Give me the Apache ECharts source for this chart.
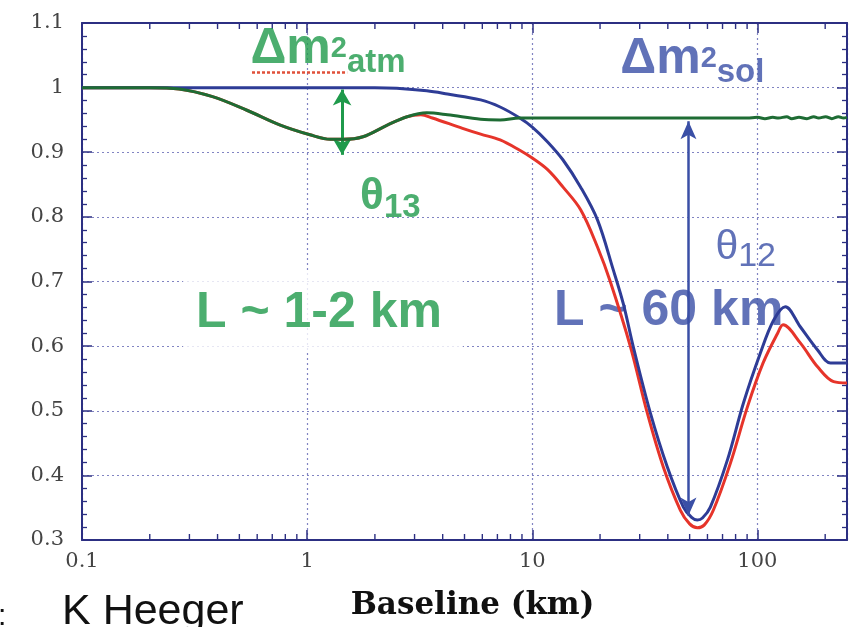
<!DOCTYPE html>
<html>
<head>
<meta charset="utf-8">
<script src="https://cdn.jsdelivr.net/npm/echarts@6/dist/echarts.min.js"></script>
<style>
  html, body { margin: 0; padding: 0; background: #fff; }
  #chart { width: 853px; height: 627px; }
</style>
</head>
<body>
<div id="chart"></div>
<script>
// Reactor antineutrino survival probability vs baseline (log scale)

// Δm²atm / θ13 driven curve
const baselineAtm = [0.1, 0.2, 0.27, 0.38, 0.54, 0.76, 1.03, 1.27, 1.45, 1.77, 2.27, 2.78, 3.4, 4.2, 5.9, 7.2, 8.8, 10, 20, 50, 90,
  100, 108, 117, 124, 135, 142, 153, 166, 178, 187, 201, 214, 229, 241, 250];
const probAtm = [1.0, 1.0, 0.998, 0.986, 0.965, 0.942, 0.927, 0.920, 0.920, 0.924, 0.942, 0.955, 0.961, 0.958, 0.951, 0.950, 0.953, 0.953, 0.953, 0.953, 0.953,
  0.954, 0.952, 0.954, 0.953, 0.955, 0.952, 0.954, 0.952, 0.955, 0.953, 0.955, 0.952, 0.955, 0.953, 0.954];

// Δm²sol / θ12 driven curve
const baselineSol = [0.1, 1, 2, 2.5, 3.4, 4.2, 5.9, 7.2, 8.8, 10, 11.7, 13.7, 16.4, 19.5, 22.9, 25.4, 28.1, 33.5, 39.8, 46.9, 51, 54.1, 57, 61.8,
  73.6, 86.7, 103, 118, 133, 155, 185, 211, 250];
const probSol = [1.0, 1.0, 1.0, 0.999, 0.995, 0.99, 0.981, 0.970, 0.953, 0.939, 0.916, 0.888, 0.846, 0.795, 0.718, 0.665, 0.599, 0.496, 0.413, 0.351, 0.335, 0.331, 0.334, 0.351,
  0.424, 0.512, 0.589, 0.640, 0.661, 0.630, 0.594, 0.574, 0.574];

// Both oscillations together
const baselineFull = [0.1, 0.2, 0.27, 0.38, 0.54, 0.76, 1.03, 1.27, 1.45, 1.77, 2.27, 2.78, 3.2, 3.6, 4.9, 5.9, 7.2, 8.8, 10, 11.7, 13.7, 16.4, 19.5, 22.2,
  27.3, 32.4, 38.2, 45.5, 50, 54.1, 58, 63.7, 75.9, 90.3, 106, 123, 130, 155, 185, 218, 250];
const probFull = [1.0, 1.0, 0.998, 0.986, 0.965, 0.942, 0.927, 0.920, 0.920, 0.924, 0.942, 0.955, 0.958, 0.953, 0.937, 0.928, 0.919, 0.903, 0.891, 0.873, 0.846, 0.811, 0.753, 0.700,
  0.599, 0.497, 0.413, 0.346, 0.325, 0.319, 0.323, 0.346, 0.419, 0.506, 0.574, 0.620, 0.633, 0.605, 0.568, 0.545, 0.543];

// Axis ticks
const yTicks = [0.3, 0.4, 0.5, 0.6, 0.7, 0.8, 0.9, 1, 1.1];
const xDecadeLabels = ['0.1', '1', '10', '100'];
const xMinorTicks = [0.2, 0.3, 0.4, 0.5, 0.6, 0.7, 0.8, 0.9, 2, 3, 4, 5, 6, 7, 8, 9, 20, 30, 40, 50, 60, 70, 80, 90, 200];

// Annotation anchors (baseline km, probability) and texts
const noteAnchors = [[0.56, 1.0132], [24.6, 0.9977], [1.72, 0.8749], [65.1, 0.7921], [0.281, 0.7178], [12.5, 0.6923]];
const noteTexts = ['{a|Δm}{p|2}{b|atm}', '{a|Δm}{p|2}{b|sol}', '{a|θ}{b|13}', '{a|θ}{b|12}', 'L ~ 1-2 km', 'L ~ 60 km'];
const noteVAlign = ['bottom', 'bottom', 'top', 'top', 'top', 'top'];

// Arrows and underline (baseline km, probability)
const arrowAtm = [[1.43, 0.997], [1.43, 0.896]];
const arrowSol = [[49.4, 0.948], [49.4, 0.338]];
const underlineAtm = [[0.569, 1.0242], [1.506, 1.0242]];

const NAVY = '#2c2f82';
const GRIDC = '#8184c2';
const GREEN_TXT = '#1f9a4b';
const GREEN_LINE = '#1e6c34';
const BLUE_TXT = '#3a4fa6';
const BLUE_LINE = '#2e3c96';
const RED_LINE = '#e6342a';
const SANS = 'Liberation Sans';
const SERIF = 'DejaVu Serif';

const zip = (xs, ys) => xs.map((x, i) => [x, ys[i]]);

const chart = echarts.init(document.getElementById('chart'), null, { renderer: 'canvas' });

function xLabel(v) {
  const e = Math.log10(v);
  if (Math.abs(e - Math.round(e)) > 1e-6) return '';
  const idx = Math.round(e) + 1;
  return xDecadeLabels[idx] !== undefined ? xDecadeLabels[idx] : '';
}
function yLabel(v) {
  const r = Math.round(v * 10) / 10;
  const hit = yTicks.find(t => Math.abs(t - r) < 1e-9);
  return hit === undefined ? '' : String(hit);
}

const dotted = { color: GRIDC, type: [2, 3], width: 1.2 };
const tok = (color, weight, size, lh, va) => ({ fontFamily: SANS, fontWeight: weight, fontSize: size, lineHeight: lh, color: color, verticalAlign: va || 'middle' });

const noteStyles = [
  { rich: { a: tok(GREEN_TXT, 'bold', 50, 60), p: tok(GREEN_TXT, 'bold', 29, 60), b: tok(GREEN_TXT, 'bold', 33, 38, 'bottom') } },
  { rich: { a: tok(BLUE_TXT, 'bold', 50, 60), p: tok(BLUE_TXT, 'bold', 29, 60), b: tok(BLUE_TXT, 'bold', 33, 38, 'bottom') } },
  { rich: { a: tok(GREEN_TXT, 'bold', 44, 56), b: tok(GREEN_TXT, 'bold', 33, 36, 'bottom') } },
  { rich: { a: tok(BLUE_TXT, 'normal', 41, 52), b: tok(BLUE_TXT, 'normal', 34, 37, 'bottom') } },
  { fontFamily: SANS, fontWeight: 'bold', fontSize: 50, lineHeight: 50, color: GREEN_TXT, backgroundColor: '#ffffff', padding: [18, 21, 14, 13] },
  { fontFamily: SANS, fontWeight: 'bold', fontSize: 50, lineHeight: 50, color: BLUE_TXT }
];

const noteData = noteAnchors.map((c, i) => ({
  value: c,
  label: Object.assign({
    show: true,
    position: [0, 0],
    align: 'left',
    verticalAlign: noteVAlign[i],
    formatter: noteTexts[i]
  }, noteStyles[i])
}));

const option = {
  animation: false,
  backgroundColor: '#fff',
  grid: { left: 82, right: 6, top: 23, bottom: 87, containLabel: false, outerBoundsMode: 'none' },
  xAxis: [
    {
      type: 'log', logBase: 10, min: 0.1, max: 250, position: 'bottom',
      axisLine: { show: true, lineStyle: { color: NAVY, width: 2 } },
      axisTick: { show: true, inside: true, length: 10, lineStyle: { color: NAVY, width: 1.5 } },
      axisLabel: { formatter: xLabel, fontFamily: SERIF, fontSize: 21, color: '#444', margin: 11, showMaxLabel: false },
      splitLine: { show: true, lineStyle: dotted },
      name: 'Baseline (km)', nameLocation: 'middle', nameGap: 50,
      nameTextStyle: { fontFamily: SERIF, fontWeight: 'bold', fontSize: 31, color: '#111', padding: [0, 0, 0, 16] }
    },
    {
      type: 'log', logBase: 10, min: 0.1, max: 250, position: 'top',
      axisLine: { show: true, lineStyle: { color: NAVY, width: 2 } },
      axisTick: { show: true, inside: true, length: 10, lineStyle: { color: NAVY, width: 1.5 } },
      axisLabel: { show: false },
      splitLine: { show: false }
    }
  ],
  yAxis: [
    {
      type: 'value', min: 0.3, max: 1.1, interval: 0.1, position: 'left',
      axisLine: { show: true, lineStyle: { color: NAVY, width: 2 } },
      axisTick: { show: true, inside: true, length: 10, lineStyle: { color: NAVY, width: 1.5 } },
      minorTick: { show: true, splitNumber: 5, length: 5, lineStyle: { color: NAVY, width: 1.3 } },
      axisLabel: { formatter: yLabel, fontFamily: SERIF, fontSize: 21, color: '#444', margin: 18 },
      splitLine: { show: true, lineStyle: dotted }
    },
    {
      type: 'value', min: 0.3, max: 1.1, interval: 0.1, position: 'right',
      axisLine: { show: true, lineStyle: { color: NAVY, width: 2 } },
      axisTick: { show: true, inside: true, length: 10, lineStyle: { color: NAVY, width: 1.5 } },
      minorTick: { show: true, splitNumber: 5, length: 5, lineStyle: { color: NAVY, width: 1.3 } },
      axisLabel: { show: false },
      splitLine: { show: false }
    }
  ],
  graphic: [
    { type: 'text', left: -2, top: 602, z: 10, style: { text: ':', fontFamily: SANS, fontSize: 30, fill: '#111' } },
    { type: 'text', left: 62, top: 591, z: 10, style: { text: 'K Heeger', fontFamily: SANS, fontSize: 43, fill: '#111' } }
  ],
  series: [
    {
      // log-decade minor ticks on bottom and top frame
      type: 'custom', name: 'minor ticks', xAxisIndex: 0, yAxisIndex: 0, silent: true, z: 1, clip: false,
      data: xMinorTicks.map(v => [v, 0.3]),
      renderItem: (params, api) => {
        const x = api.coord([api.value(0), 0.3])[0];
        const cs = params.coordSys;
        const st = { stroke: NAVY, lineWidth: 1.4 };
        return {
          type: 'group', children: [
            { type: 'line', shape: { x1: x, y1: cs.y + cs.height, x2: x, y2: cs.y + cs.height - 6 }, style: st },
            { type: 'line', shape: { x1: x, y1: cs.y, x2: x, y2: cs.y + 6 }, style: st }
          ]
        };
      }
    },
    {
      type: 'scatter', name: 'notes', xAxisIndex: 0, yAxisIndex: 0, z: 2, silent: true,
      symbolSize: 0.1, itemStyle: { color: 'rgba(0,0,0,0)' },
      data: noteData
    },
    {
      type: 'line', name: 'full', z: 3, symbol: 'none', smooth: 0.35,
      lineStyle: { color: RED_LINE, width: 3 },
      data: zip(baselineFull, probFull),
      markLine: {
        silent: true, symbol: 'none', label: { show: false },
        lineStyle: { color: '#e0503a', type: [3, 2], width: 2.5 },
        data: [[{ coord: underlineAtm[0] }, { coord: underlineAtm[1] }]]
      }
    },
    {
      type: 'line', name: 'sol', z: 4, symbol: 'none', smooth: 0.35,
      lineStyle: { color: BLUE_LINE, width: 3 },
      data: zip(baselineSol, probSol),
      markLine: {
        silent: true, symbol: ['arrow', 'arrow'], symbolSize: [12, 18], label: { show: false },
        lineStyle: { color: BLUE_TXT, type: 'solid', width: 2.5 },
        data: [[{ coord: arrowSol[0] }, { coord: arrowSol[1] }]]
      }
    },
    {
      type: 'line', name: 'atm', z: 5, symbol: 'none', smooth: 0.35,
      lineStyle: { color: GREEN_LINE, width: 3 },
      data: zip(baselineAtm, probAtm),
      markLine: {
        silent: true, symbol: ['arrow', 'arrow'], symbolSize: [14, 16], label: { show: false },
        lineStyle: { color: GREEN_TXT, type: 'solid', width: 3 },
        data: [[{ coord: arrowAtm[0] }, { coord: arrowAtm[1] }]]
      }
    }
  ]
};

chart.setOption(option);
</script>
</body>
</html>
